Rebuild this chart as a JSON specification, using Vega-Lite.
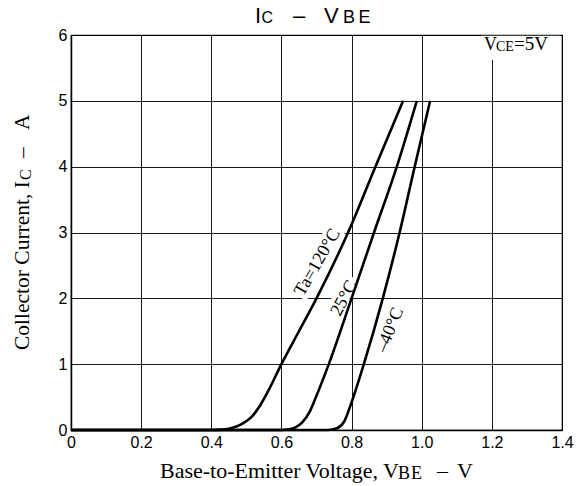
{
  "$schema": "https://vega.github.io/schema/vega-lite/v6.json",
  "width": 491,
  "height": 395,
  "autosize": {"type": "none"},
  "padding": {"left": 71, "top": 35, "right": 19, "bottom": 56},
  "background": "white",
  "config": {
    "view": {"stroke": "black", "strokeWidth": 1.2},
    "axis": {
      "grid": true,
      "labelFont": "Liberation Sans",
      "labelFontSize": 16,
      "labelColor": "black",
      "domainColor": "black",
      "domainWidth": 1.5,
      "gridColor": "black",
      "gridWidth": 1,
      "gridOpacity": 0.9,
      "ticks": false,
      "title": null
    }
  },
  "datasets": {
    "curves": [
      {"t": "120", "v": 0, "i": 0}, {"t": "120", "v": 0.40, "i": 0}, {"t": "120", "v": 0.43, "i": 0.005},
      {"t": "120", "v": 0.45, "i": 0.02}, {"t": "120", "v": 0.47, "i": 0.05}, {"t": "120", "v": 0.49, "i": 0.1},
      {"t": "120", "v": 0.515, "i": 0.2}, {"t": "120", "v": 0.54, "i": 0.38}, {"t": "120", "v": 0.563, "i": 0.6},
      {"t": "120", "v": 0.60, "i": 1.0}, {"t": "120", "v": 0.65, "i": 1.5}, {"t": "120", "v": 0.70, "i": 2.0},
      {"t": "120", "v": 0.79, "i": 3.0}, {"t": "120", "v": 0.868, "i": 4.0}, {"t": "120", "v": 0.947, "i": 5.0},
      {"t": "25", "v": 0, "i": 0}, {"t": "25", "v": 0.60, "i": 0}, {"t": "25", "v": 0.62, "i": 0.01},
      {"t": "25", "v": 0.64, "i": 0.04}, {"t": "25", "v": 0.66, "i": 0.12}, {"t": "25", "v": 0.68, "i": 0.27},
      {"t": "25", "v": 0.70, "i": 0.52}, {"t": "25", "v": 0.735, "i": 1.0}, {"t": "25", "v": 0.80, "i": 2.0},
      {"t": "25", "v": 0.864, "i": 3.0}, {"t": "25", "v": 0.929, "i": 4.0}, {"t": "25", "v": 0.986, "i": 5.0},
      {"t": "-40", "v": 0, "i": 0}, {"t": "-40", "v": 0.72, "i": 0}, {"t": "-40", "v": 0.74, "i": 0.005},
      {"t": "-40", "v": 0.76, "i": 0.03}, {"t": "-40", "v": 0.78, "i": 0.14}, {"t": "-40", "v": 0.80, "i": 0.42},
      {"t": "-40", "v": 0.835, "i": 1.0}, {"t": "-40", "v": 0.889, "i": 2.0}, {"t": "-40", "v": 0.937, "i": 3.0},
      {"t": "-40", "v": 0.98, "i": 4.0}, {"t": "-40", "v": 1.024, "i": 5.0}
    ],
    "one": [{}]
  },
  "layer": [
    {
      "data": {"name": "curves"},
      "mark": {"type": "line", "color": "black", "strokeWidth": 0, "opacity": 0},
      "encoding": {
        "x": {
          "field": "v", "type": "quantitative",
          "scale": {"domain": [0, 1.4], "nice": false, "zero": false},
          "axis": {
            "grid": true,
            "values": [0, 0.2, 0.4, 0.6, 0.8, 1.0, 1.2, 1.4],
            "labelExpr": "datum.value == 0 ? '0' : format(datum.value, '.1f')",
            "labelPadding": 4,
            "labelFlush": false
          }
        },
        "y": {
          "field": "i", "type": "quantitative",
          "scale": {"domain": [0, 6], "nice": false},
          "axis": {"grid": true, "values": [0, 1, 2, 3, 4, 5, 6], "format": "d", "labelPadding": 4, "labelFlush": false}
        },
        "detail": {"field": "t"}
      }
    },
    {
      "data": {"name": "one"},
      "mark": {"type": "rect", "fill": "white"},
      "encoding": {
        "x": {"datum": 1.17, "type": "quantitative"},
        "x2": {"datum": 1.395},
        "y": {"datum": 5.62, "type": "quantitative"},
        "y2": {"datum": 5.99}
      }
    },
    {
      "data": {"name": "one"},
      "mark": {"type": "text", "text": "Ta=120°C", "font": "Liberation Serif", "fontSize": 18, "angle": -60, "align": "center", "baseline": "middle", "fill": "white", "stroke": "white", "strokeWidth": 9},
      "encoding": {"x": {"datum": 0.703, "type": "quantitative"}, "y": {"datum": 2.545, "type": "quantitative"}}
    },
    {
      "data": {"name": "one"},
      "mark": {"type": "text", "text": "25°C", "font": "Liberation Serif", "fontSize": 18, "angle": -62, "align": "center", "baseline": "middle", "fill": "white", "stroke": "white", "strokeWidth": 9},
      "encoding": {"x": {"datum": 0.779, "type": "quantitative"}, "y": {"datum": 2.0, "type": "quantitative"}}
    },
    {
      "data": {"name": "one"},
      "mark": {"type": "text", "text": "–40°C", "font": "Liberation Serif", "fontSize": 18, "angle": -68, "align": "center", "baseline": "middle", "fill": "white", "stroke": "white", "strokeWidth": 9},
      "encoding": {"x": {"datum": 0.91, "type": "quantitative"}, "y": {"datum": 1.52, "type": "quantitative"}}
    },
    {
      "data": {"name": "curves"},
      "mark": {"type": "line", "interpolate": "monotone", "color": "black", "strokeWidth": 2.6},
      "encoding": {
        "x": {"field": "v", "type": "quantitative"},
        "y": {"field": "i", "type": "quantitative"},
        "detail": {"field": "t"}
      }
    },
    {
      "data": {"name": "one"},
      "mark": {"type": "text", "text": "Ta=120°C", "font": "Liberation Serif", "fontSize": 18, "angle": -60, "align": "center", "baseline": "middle", "color": "black"},
      "encoding": {"x": {"datum": 0.703, "type": "quantitative"}, "y": {"datum": 2.545, "type": "quantitative"}}
    },
    {
      "data": {"name": "one"},
      "mark": {"type": "text", "text": "25°C", "font": "Liberation Serif", "fontSize": 18, "angle": -62, "align": "center", "baseline": "middle", "color": "black"},
      "encoding": {"x": {"datum": 0.779, "type": "quantitative"}, "y": {"datum": 2.0, "type": "quantitative"}}
    },
    {
      "data": {"name": "one"},
      "mark": {"type": "text", "text": "–40°C", "font": "Liberation Serif", "fontSize": 18, "angle": -68, "align": "center", "baseline": "middle", "color": "black"},
      "encoding": {"x": {"datum": 0.91, "type": "quantitative"}, "y": {"datum": 1.52, "type": "quantitative"}}
    },
    {
      "data": {"name": "one"},
      "mark": {"type": "text", "text": "V", "font": "Liberation Serif", "fontSize": 18, "align": "left", "baseline": "alphabetic", "color": "black"},
      "encoding": {"x": {"datum": 1.1776, "type": "quantitative"}, "y": {"datum": 5.768, "type": "quantitative"}}
    },
    {
      "data": {"name": "one"},
      "mark": {"type": "text", "text": "CE", "font": "Liberation Serif", "fontSize": 14, "align": "left", "baseline": "alphabetic", "color": "black"},
      "encoding": {"x": {"datum": 1.2119, "type": "quantitative"}, "y": {"datum": 5.75, "type": "quantitative"}}
    },
    {
      "data": {"name": "one"},
      "mark": {"type": "text", "text": "=5V", "font": "Liberation Serif", "fontSize": 19, "align": "left", "baseline": "alphabetic", "color": "black"},
      "encoding": {"x": {"datum": 1.2632, "type": "quantitative"}, "y": {"datum": 5.768, "type": "quantitative"}}
    },
    {
      "data": {"name": "one"},
      "mark": {"type": "text", "text": "I", "font": "Liberation Sans", "fontSize": 22, "align": "left", "baseline": "alphabetic", "color": "black"},
      "encoding": {"x": {"datum": 0.5247, "type": "quantitative"}, "y": {"datum": 6.18, "type": "quantitative"}}
    },
    {
      "data": {"name": "one"},
      "mark": {"type": "text", "text": "C", "font": "Liberation Sans", "fontSize": 16, "align": "left", "baseline": "alphabetic", "color": "black"},
      "encoding": {"x": {"datum": 0.5432, "type": "quantitative"}, "y": {"datum": 6.18, "type": "quantitative"}}
    },
    {
      "data": {"name": "one"},
      "mark": {"type": "text", "text": "–", "font": "Liberation Sans", "fontSize": 22, "align": "left", "baseline": "alphabetic", "color": "black"},
      "encoding": {"x": {"datum": 0.633, "type": "quantitative"}, "y": {"datum": 6.18, "type": "quantitative"}}
    },
    {
      "data": {"name": "one"},
      "mark": {"type": "text", "text": "V", "font": "Liberation Sans", "fontSize": 22, "align": "left", "baseline": "alphabetic", "color": "black"},
      "encoding": {"x": {"datum": 0.7214, "type": "quantitative"}, "y": {"datum": 6.18, "type": "quantitative"}}
    },
    {
      "data": {"name": "one"},
      "mark": {"type": "text", "text": "B", "font": "Liberation Sans", "fontSize": 18, "align": "left", "baseline": "alphabetic", "color": "black"},
      "encoding": {"x": {"datum": 0.7756, "type": "quantitative"}, "y": {"datum": 6.18, "type": "quantitative"}}
    },
    {
      "data": {"name": "one"},
      "mark": {"type": "text", "text": "E", "font": "Liberation Sans", "fontSize": 18, "align": "left", "baseline": "alphabetic", "color": "black"},
      "encoding": {"x": {"datum": 0.8198, "type": "quantitative"}, "y": {"datum": 6.18, "type": "quantitative"}}
    },
    {
      "data": {"name": "one"},
      "mark": {"type": "text", "text": "Base-to-Emitter Voltage, V", "font": "Liberation Serif", "fontSize": 22, "align": "left", "baseline": "alphabetic", "color": "black"},
      "encoding": {"x": {"datum": 0.2538, "type": "quantitative"}, "y": {"datum": -0.729, "type": "quantitative"}}
    },
    {
      "data": {"name": "one"},
      "mark": {"type": "text", "text": "B", "font": "Liberation Serif", "fontSize": 18, "align": "left", "baseline": "alphabetic", "color": "black"},
      "encoding": {"x": {"datum": 0.9324, "type": "quantitative"}, "y": {"datum": -0.744, "type": "quantitative"}}
    },
    {
      "data": {"name": "one"},
      "mark": {"type": "text", "text": "E", "font": "Liberation Serif", "fontSize": 18, "align": "left", "baseline": "alphabetic", "color": "black"},
      "encoding": {"x": {"datum": 0.9695, "type": "quantitative"}, "y": {"datum": -0.744, "type": "quantitative"}}
    },
    {
      "data": {"name": "one"},
      "mark": {"type": "text", "text": "–", "font": "Liberation Serif", "fontSize": 22, "align": "left", "baseline": "alphabetic", "color": "black"},
      "encoding": {"x": {"datum": 1.0436, "type": "quantitative"}, "y": {"datum": -0.729, "type": "quantitative"}}
    },
    {
      "data": {"name": "one"},
      "mark": {"type": "text", "text": "V", "font": "Liberation Serif", "fontSize": 22, "align": "left", "baseline": "alphabetic", "color": "black"},
      "encoding": {"x": {"datum": 1.1006, "type": "quantitative"}, "y": {"datum": -0.729, "type": "quantitative"}}
    },
    {
      "data": {"name": "one"},
      "mark": {"type": "text", "text": "Collector Current, I", "font": "Liberation Serif", "fontSize": 21.5, "angle": -90, "align": "left", "baseline": "alphabetic", "color": "black"},
      "encoding": {"x": {"datum": -0.1198, "type": "quantitative"}, "y": {"datum": 1.215, "type": "quantitative"}}
    },
    {
      "data": {"name": "one"},
      "mark": {"type": "text", "text": "C", "font": "Liberation Serif", "fontSize": 16, "angle": -90, "align": "left", "baseline": "alphabetic", "color": "black"},
      "encoding": {"x": {"datum": -0.114, "type": "quantitative"}, "y": {"datum": 3.797, "type": "quantitative"}}
    },
    {
      "data": {"name": "one"},
      "mark": {"type": "text", "text": "–", "font": "Liberation Serif", "fontSize": 21.5, "angle": -90, "align": "left", "baseline": "alphabetic", "color": "black"},
      "encoding": {"x": {"datum": -0.1198, "type": "quantitative"}, "y": {"datum": 4.132, "type": "quantitative"}}
    },
    {
      "data": {"name": "one"},
      "mark": {"type": "text", "text": "A", "font": "Liberation Serif", "fontSize": 21.5, "angle": -90, "align": "left", "baseline": "alphabetic", "color": "black"},
      "encoding": {"x": {"datum": -0.1198, "type": "quantitative"}, "y": {"datum": 4.557, "type": "quantitative"}}
    }
  ]
}
